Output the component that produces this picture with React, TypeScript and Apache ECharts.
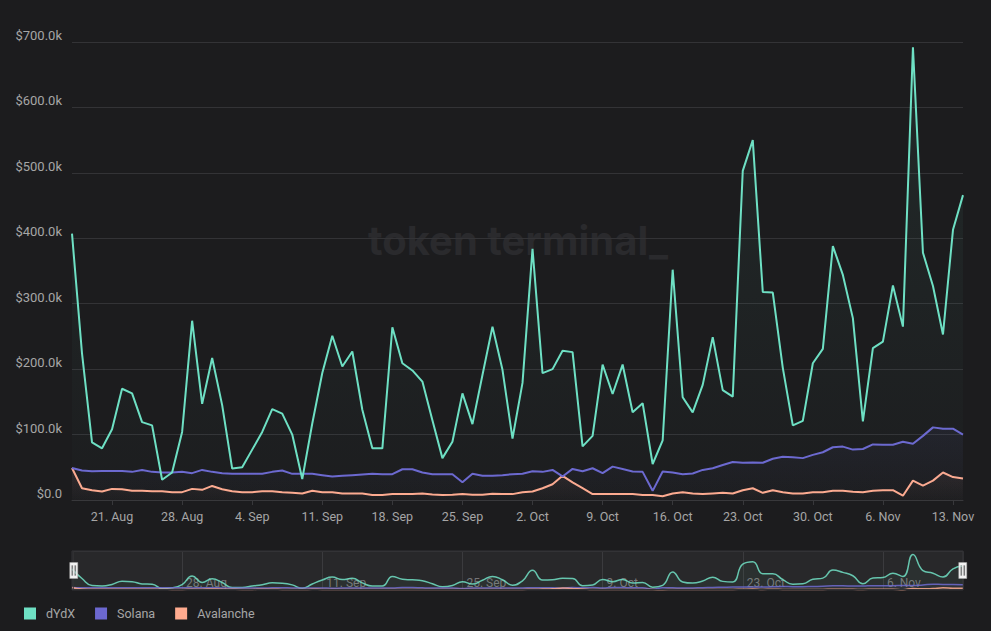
import React, { useEffect, useRef } from "react";
import * as echarts from "echarts";

// Daily values in thousands of USD, 17 Aug – 14 Nov
const dydx = [
  407, 224, 88, 79, 108, 170, 163, 119, 114, 31,
  42, 104, 274, 147, 217, 145, 48, 50, 77, 104,
  139, 132, 100, 32, 117, 194, 251, 204, 227, 138,
  79, 79, 264, 209, 198, 181, 122, 64, 89, 163,
  116, 191, 265, 199, 94, 179, 384, 194, 200, 228,
  226, 82, 98, 207, 162, 207, 134, 148, 55, 91,
  352, 157, 134, 176, 249, 168, 158, 503, 550, 318,
  317, 202, 114, 121, 209, 231, 388, 344, 278, 120,
  232, 242, 328, 265, 692, 378, 327, 253, 413, 466,
];
const solana = [
  49, 45, 44, 44.5, 44.5, 44.5, 43, 46, 43, 42,
  42, 43, 41, 46, 43, 41, 40, 40, 40, 40,
  43, 45, 40, 40, 40, 38, 36, 37, 38, 39,
  40, 39.5, 39.5, 47, 47, 42, 39.5, 39.5, 39.5, 27,
  40, 37, 37, 38, 39.5, 40, 44, 43, 46, 36,
  47.5, 44, 48.5, 41, 51, 47.5, 43.5, 43, 14, 43.5,
  42, 39.5, 40.5, 46, 48.5, 53.5, 58, 57, 57.5, 57,
  63, 66, 65.5, 64, 69, 73, 80.6, 81.6, 77, 78,
  85, 84.5, 84.5, 89, 86, 98, 111, 109, 109, 100,
];
const avalanche = [
  49, 18, 15, 13, 17, 16.5, 14, 14, 13.5, 13.5,
  12, 12, 17, 15.5, 21.5, 16.5, 13.5, 12, 12, 13.5,
  13.5, 12, 11, 10, 14, 12, 12, 10, 10, 10,
  7.7, 7.7, 9, 9, 9, 10, 8.5, 7.7, 8, 9,
  8, 8, 9.5, 9, 9, 12, 13, 18, 24, 37,
  27, 18, 9, 9, 9, 9, 9, 7.5, 7.5, 5.7,
  10, 12, 10, 9, 10, 11, 10, 15, 18, 11,
  15, 12, 10, 10, 12, 12, 14, 14, 12.5, 12,
  14, 15, 15, 6.6, 29.6, 22, 29.6, 42, 35, 33,
];

const seriesNames = ["dYdX", "Solana", "Avalanche"];
const seriesColors = ["#6EE0C4", "#6C68D0", "#FFAB8F"];
const areaRgb = ["110,224,196", "108,104,208", "255,171,143"];

const monthNames = ["Jan", "Feb", "Mar", "Apr", "May", "Jun", "Jul", "Aug", "Sep", "Oct", "Nov", "Dec"];
const startDate = Date.UTC(2021, 7, 17);
const categories: string[] = dydx.map((_, i) => {
  const d = new Date(startDate + i * 86400000);
  return `${d.getUTCDate()}. ${monthNames[d.getUTCMonth()]}`;
});

const mainTickLabels = ["21. Aug", "28. Aug", "4. Sep", "11. Sep", "18. Sep", "25. Sep", "2. Oct", "9. Oct", "16. Oct", "23. Oct", "30. Oct", "6. Nov", "13. Nov"];
const navTickLabels = ["28. Aug", "11. Sep", "25. Sep", "9. Oct", "23. Oct", "6. Nov"];

const FONT = "Roboto, 'Noto Sans', sans-serif";
const WM_FONT = "Inter, 'Noto Sans', sans-serif";

export default function App() {
  const ref = useRef<HTMLDivElement>(null);

  useEffect(() => {
    document.body.style.margin = "0";
    document.body.style.background = "#1c1c1e";
    if (!ref.current) return;
    const chart = echarts.init(ref.current, null, { renderer: "svg" });
    const data = [dydx, solana, avalanche];

    const mainSeries = data.map((arr, k) => ({
      name: seriesNames[k],
      type: "line",
      xAxisIndex: 0,
      yAxisIndex: 0,
      data: arr.map((v) => v * 1000),
      showSymbol: false,
      symbol: "none",
      lineStyle: { width: 2, color: seriesColors[k] },
      itemStyle: { color: seriesColors[k] },
      areaStyle: {
        color: new echarts.graphic.LinearGradient(0, 0, 0, 1, [
          { offset: 0, color: `rgba(${areaRgb[k]},0.10)` },
          { offset: 1, color: `rgba(${areaRgb[k]},0.01)` },
        ]),
      },
      z: 3 - k,
    }));

    const navSeries = data.map((arr, k) => ({
      name: seriesNames[k],
      type: "line",
      xAxisIndex: 1,
      yAxisIndex: 1,
      data: arr.map((v) => v * 1000),
      smooth: true,
      showSymbol: false,
      symbol: "none",
      silent: true,
      lineStyle: { width: 1.5, color: seriesColors[k], opacity: 0.85 },
      areaStyle: { color: `rgba(${areaRgb[k]},0.06)` },
    }));

    const mainShow = (i: number) => mainTickLabels.indexOf(categories[i]) >= 0;
    const navShow = (i: number) => navTickLabels.indexOf(categories[i]) >= 0;

    chart.setOption({
      animation: false,
      backgroundColor: "#1c1c1e",
      textStyle: { fontFamily: FONT },
      graphic: [
        {
          type: "text",
          x: 518,
          y: 240,
          z: -10,
          silent: true,
          style: {
            text: "token terminal_",
            fill: "#2a2a2d",
            font: `bold 40px ${WM_FONT}`,
            textAlign: "center",
            textVerticalAlign: "middle",
          },
        },
      ],
      legend: {
        left: 24,
        top: 607,
        padding: 0,
        icon: "rect",
        itemWidth: 12,
        itemHeight: 12,
        itemGap: 20,
        data: seriesNames,
        textStyle: { color: "#a6a6a6", fontSize: 12.5, fontFamily: FONT, padding: [0, 0, 0, 5] },
      },
      grid: [
        { left: 72, right: 28, top: 42, bottom: 131, containLabel: false },
        {
          left: 72,
          right: 28,
          top: 551,
          height: 39,
          show: true,
          backgroundColor: "#242426",
          borderColor: "#333336",
          borderWidth: 1,
        },
      ],
      xAxis: [
        {
          type: "category",
          gridIndex: 0,
          data: categories,
          boundaryGap: false,
          axisLine: { lineStyle: { color: "#38383b" } },
          axisTick: { show: true, interval: mainShow, length: 5, lineStyle: { color: "#38383b" } },
          axisLabel: {
            interval: mainShow,
            color: "#a6a6a6",
            fontSize: 12.5,
            fontFamily: FONT,
            margin: 10,
          },
          splitLine: { show: false },
        },
        {
          type: "category",
          gridIndex: 1,
          data: categories,
          boundaryGap: false,
          axisLine: { show: false },
          axisTick: { show: false },
          axisLabel: {
            interval: navShow,
            inside: true,
            align: "left",
            color: "#747476",
            fontSize: 12,
            fontFamily: FONT,
            margin: 1,
            padding: [0, 0, 0, 4],
          },
          splitLine: { show: true, interval: navShow, lineStyle: { color: "#38383b" } },
        },
      ],
      yAxis: [
        {
          type: "value",
          gridIndex: 0,
          min: 0,
          max: 700000,
          interval: 100000,
          axisLine: { show: false },
          axisTick: { show: false },
          splitLine: { lineStyle: { color: "#333336" } },
          axisLabel: {
            color: "#a6a6a6",
            fontSize: 13,
            fontFamily: FONT,
            margin: 10,
            verticalAlign: "bottom",
            formatter: (v: number) => (v === 0 ? "$0.0" : `$${(v / 1000).toFixed(1)}k`),
          },
        },
        {
          type: "value",
          gridIndex: 1,
          min: 0,
          max: 760000,
          show: false,
          splitLine: { show: false },
        },
      ],
      dataZoom: [
        {
          type: "slider",
          xAxisIndex: 0,
          left: 72,
          right: 28,
          top: 551,
          height: 39,
          start: 0,
          end: 100,
          showDataShadow: false,
          showDetail: false,
          brushSelect: false,
          moveHandleSize: 0,
          backgroundColor: "rgba(0,0,0,0)",
          fillerColor: "rgba(255,255,255,0.02)",
          borderColor: "#333336",
          handleIcon:
            "path://M-4,-8 L4,-8 L4,8 L-4,8 Z M-2,-5 L-2,5 L-1,5 L-1,-5 Z M1,-5 L1,5 L2,5 L2,-5 Z",
          handleSize: 16,
          handleStyle: { color: "#f2f2f2", borderColor: "#aaaaaa", borderWidth: 0.5 },
          dataBackground: { lineStyle: { opacity: 0 }, areaStyle: { opacity: 0 } },
          selectedDataBackground: { lineStyle: { opacity: 0 }, areaStyle: { opacity: 0 } },
          textStyle: { color: "transparent" },
        },
      ],
      series: [...mainSeries, ...navSeries],
    });

    return () => chart.dispose();
  }, []);

  return (
    <div
      ref={ref}
      style={{ position: "fixed", left: 0, top: 0, width: 991, height: 631, background: "#1c1c1e" }}
    />
  );
}
